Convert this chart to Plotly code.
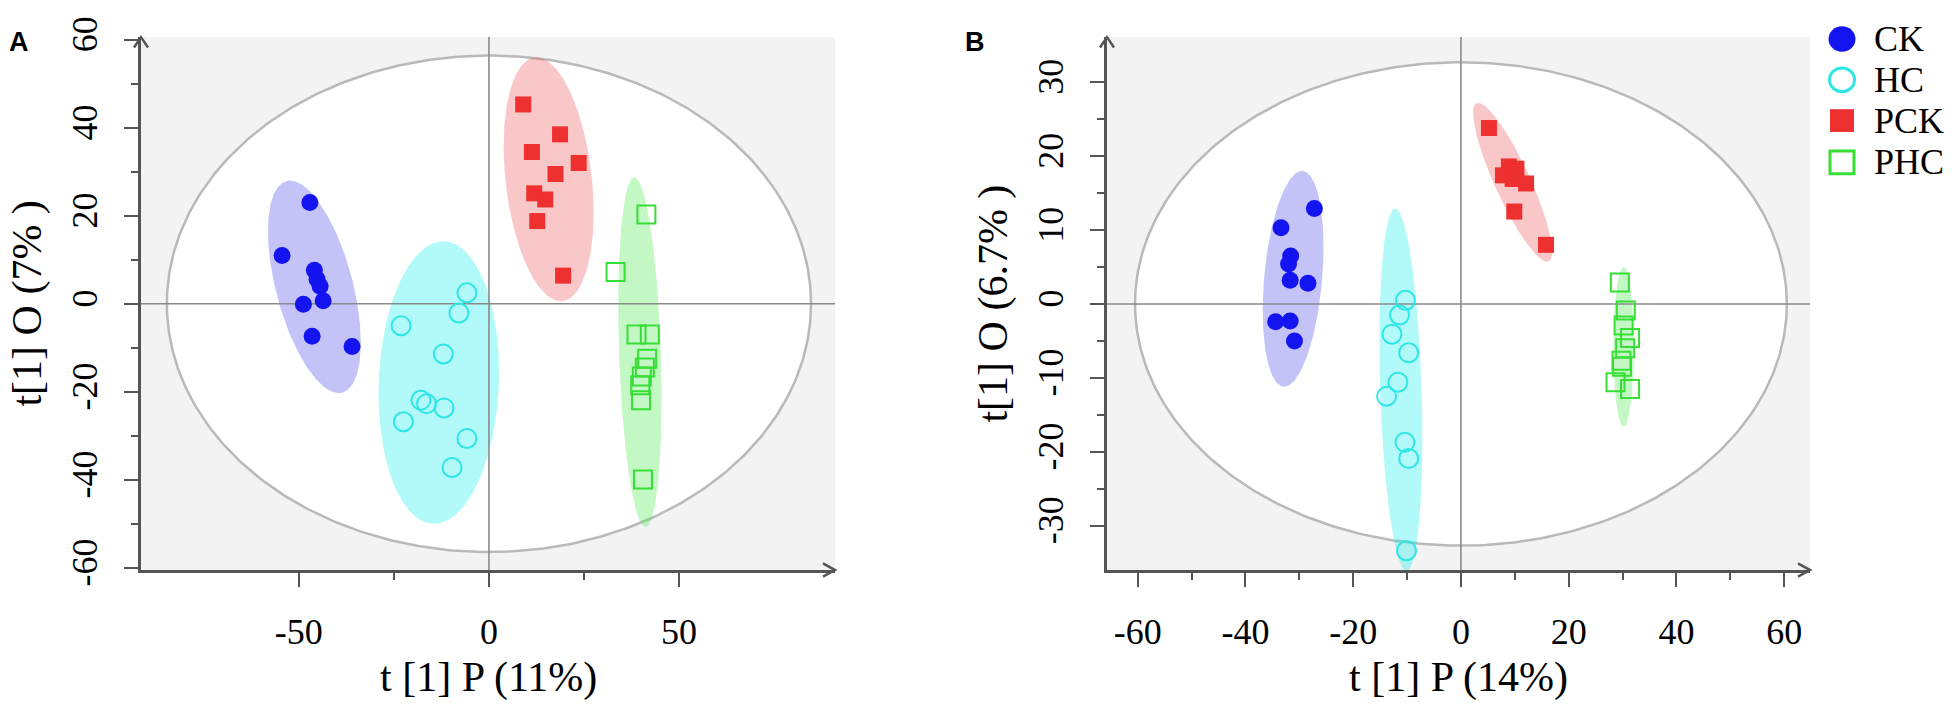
import numpy as np
import plotly.graph_objects as go

W, H = 1955, 715

# ---------------- data ----------------
groups = ["CK", "HC", "PCK", "PHC"]

# Panel A : t[1]P (11%) vs t[1]O (7%)
A_CK_x = [-47.1, -54.4, -45.9, -45.2, -44.4, -43.6, -48.8, -46.5, -36.0]
A_CK_y = [23.0, 11.0, 7.6, 5.6, 4.0, 0.7, -0.1, -7.4, -9.7]
A_HC_x = [-23.1, -5.8, -7.9, -12.0, -17.9, -16.4, -11.8, -22.5, -5.8, -9.7]
A_HC_y = [-5.0, 2.5, -2.1, -11.4, -21.9, -22.7, -23.7, -26.8, -30.6, -37.2]
A_PCK_x = [9.0, 18.7, 11.3, 23.6, 17.5, 11.9, 14.8, 12.7, 19.5]
A_PCK_y = [45.3, 38.5, 34.5, 32.0, 29.5, 25.1, 23.7, 18.8, 6.4]
A_PHC_x = [41.4, 33.3, 38.8, 42.3, 41.6, 41.0, 40.2, 39.8, 40.0, 40.5]
A_PHC_y = [20.3, 7.2, -7.0, -7.0, -12.5, -14.5, -16.5, -18.5, -21.9, -39.9]

# Panel B : t[1]P (14%) vs t[1]O (6.7%)
B_CK_x = [-27.2, -33.4, -31.6, -32.0, -31.7, -28.4, -34.4, -31.7, -30.9]
B_CK_y = [12.9, 10.3, 6.5, 5.4, 3.2, 2.8, -2.4, -2.3, -5.0]
B_HC_x = [-10.3, -11.4, -12.8, -9.7, -11.7, -13.8, -10.4, -9.7, -10.1]
B_HC_y = [0.5, -1.5, -4.1, -6.6, -10.6, -12.5, -18.7, -20.9, -33.4]
B_PCK_x = [5.2, 8.9, 10.3, 7.8, 9.6, 12.1, 9.9, 15.8]
B_PCK_y = [23.8, 18.6, 18.3, 17.4, 16.9, 16.3, 12.5, 8.0]
B_PHC_x = [29.5, 30.6, 30.2, 31.4, 30.5, 29.8, 29.9, 28.7, 31.4]
B_PHC_y = [2.9, -0.9, -2.9, -4.6, -6.0, -7.7, -8.5, -10.6, -11.5]

# group confidence ellipses: centre x, centre y, top-point x, top-point y, horizontal half-width
A_ell = [(-45.9, 3.85, -52.3, 28.0, 10.4),
         (-13.2, -17.9, -12.0, 14.2, 15.8),
         (15.7, 28.3, 12.5, 56.0, 11.4),
         (39.7, -11.0, 38.2, 28.7, 5.5)]
B_ell = [(-31.15, 3.4, -29.5, 18.0, 5.4),
         (-11.15, -11.6, -12.2, 12.9, 3.85),
         (9.6, 16.45, 3.2, 27.2, 3.6),
         (30.2, -5.8, 30.2, 5.0, 1.9)]
# Hotelling T2 ellipse radii
A_hot = (84.7, 56.4)
B_hot = (60.5, 32.7)

A_xrange = [-91.5, 91.0]
A_yrange = [-60.5, 60.6]
B_xrange = [-65.7, 64.8]
B_yrange = [-36.0, 36.1]

# tick values / labels
A_xticks = [-50, 0, 50]
A_xticklabels = ["-50", "0", "50"]
A_xminor = [-25, 25]
A_yticks = [-60, -40, -20, 0, 20, 40, 60]
A_yticklabels = ["-60", "-40", "-20", "0", "20", "40", "60"]
A_yminor = [-50, -30, -10, 10, 30, 50]
B_xticks = [-60, -40, -20, 0, 20, 40, 60]
B_xticklabels = ["-60", "-40", "-20", "0", "20", "40", "60"]
B_xminor = [-50, -30, -10, 10, 30, 50]
B_yticks = [-30, -20, -10, 0, 10, 20, 30]
B_yticklabels = ["-30", "-20", "-10", "0", "10", "20", "30"]
B_yminor = [-25, -15, -5, 5, 15, 25]

A_xlabel, A_ylabel = "t [1] P (11%)", "t[1] O (7% )"
B_xlabel, B_ylabel = "t [1] P (14%)", "t[1] O (6.7% )"

# ---------------- styles ----------------
mcol = {"CK": "#1414f0", "HC": "#2ee6e6", "PCK": "#ee3030", "PHC": "#36de36"}
fcol = {"CK": "rgba(90,90,235,0.36)", "HC": "rgba(0,235,235,0.30)",
        "PCK": "rgba(238,90,90,0.34)", "PHC": "rgba(80,232,80,0.34)"}
SERIF = "Liberation Serif"
AXC = "#555555"

fig = go.Figure()


def ell_pts(cx, cy, tx, ty, w, n=240):
    t = np.linspace(0, 2 * np.pi, n)
    return cx + (tx - cx) * np.cos(t) + w * np.sin(t), cy + (ty - cy) * np.cos(t)


def add_panel(xa, ya, hot, ells, xr, yr, pts):
    t = np.linspace(0, 2 * np.pi, 400)
    fig.add_trace(go.Scatter(x=hot[0] * np.cos(t), y=hot[1] * np.sin(t), mode="lines",
                             fill="toself", fillcolor="white",
                             line=dict(color="#b9b9b9", width=2.5),
                             xaxis=xa, yaxis=ya, showlegend=False, hoverinfo="skip"))
    for g, e in zip(groups, ells):
        ex, ey = ell_pts(*e)
        fig.add_trace(go.Scatter(x=ex, y=ey, mode="lines", fill="toself",
                                 fillcolor=fcol[g], line=dict(width=0),
                                 xaxis=xa, yaxis=ya, showlegend=False, hoverinfo="skip"))
    fig.add_trace(go.Scatter(x=xr, y=[0, 0], mode="lines", line=dict(color="#8a8a8a", width=1.6),
                             xaxis=xa, yaxis=ya, showlegend=False, hoverinfo="skip"))
    fig.add_trace(go.Scatter(x=[0, 0], y=yr, mode="lines", line=dict(color="#8a8a8a", width=1.6),
                             xaxis=xa, yaxis=ya, showlegend=False, hoverinfo="skip"))
    for g, (px, py) in zip(groups, pts):
        if g == "CK":
            mk = dict(symbol="circle", size=17, color=mcol[g])
        elif g == "HC":
            mk = dict(symbol="circle-open", size=19, color=mcol[g], line=dict(width=2))
        elif g == "PCK":
            mk = dict(symbol="square", size=16, color=mcol[g])
        else:
            mk = dict(symbol="square-open", size=18, color=mcol[g], line=dict(width=2))
        fig.add_trace(go.Scatter(x=px, y=py, mode="markers", marker=mk, name=g,
                                 xaxis=xa, yaxis=ya, showlegend=False))


add_panel("x", "y", A_hot, A_ell, A_xrange, A_yrange,
          [(A_CK_x, A_CK_y), (A_HC_x, A_HC_y), (A_PCK_x, A_PCK_y), (A_PHC_x, A_PHC_y)])
add_panel("x2", "y2", B_hot, B_ell, B_xrange, B_yrange,
          [(B_CK_x, B_CK_y), (B_HC_x, B_HC_y), (B_PCK_x, B_PCK_y), (B_PHC_x, B_PHC_y)])

ax_left, ax_right = 141, 835
bx_left, bx_right = 1107, 1810
py_top, py_bot = 17, 579
ydom = [1 - py_bot / H, 1 - py_top / H]


def axis_common(**kw):
    d = dict(showline=True, linecolor=AXC, linewidth=3, ticks="outside", ticklen=14,
             tickwidth=2, tickcolor=AXC, showgrid=False, zeroline=False,
             ticklabeloverflow="allow", tickmode="array",
             tickfont=dict(family=SERIF, size=36, color="black"), fixedrange=True)
    d.update(kw)
    return d


def minor(vals):
    return dict(ticks="outside", ticklen=7, tickwidth=2, tickcolor=AXC, tickvals=vals)


fig.update_layout(
    width=W, height=H, autosize=False,
    margin=dict(l=0, r=0, t=0, b=0),
    paper_bgcolor="white", plot_bgcolor="#f3f3f3",
    xaxis=axis_common(domain=[ax_left / W, ax_right / W], range=A_xrange,
                      tickvals=A_xticks, ticktext=A_xticklabels, anchor="y",
                      ticklabelstandoff=14, minor=minor(A_xminor)),
    yaxis=axis_common(domain=ydom, range=A_yrange, tickvals=A_yticks, ticktext=A_yticklabels,
                      tickangle=-90, anchor="x", ticklabelstandoff=13, minor=minor(A_yminor)),
    xaxis2=axis_common(domain=[bx_left / W, bx_right / W], range=B_xrange,
                       tickvals=B_xticks, ticktext=B_xticklabels, anchor="y2",
                       ticklabelstandoff=14, minor=minor(B_xminor)),
    yaxis2=axis_common(domain=ydom, range=B_yrange, tickvals=B_yticks, ticktext=B_yticklabels,
                       tickangle=-90, anchor="x2", ticklabelstandoff=13, minor=minor(B_yminor)),
)


def px_x(p):
    return p / W


def px_y(p):
    return 1 - p / H


shapes = []
# axis arrow heads
for xl, xr_ in ((ax_left, ax_right), (bx_left, bx_right)):
    shapes.append(dict(type="path", xref="paper", yref="paper",
                       path=f"M {px_x(xl-7)},{px_y(py_top+11)} L {px_x(xl)},{px_y(py_top)} L {px_x(xl+7)},{px_y(py_top+11)}",
                       line=dict(color=AXC, width=2.5)))
    shapes.append(dict(type="path", xref="paper", yref="paper",
                       path=f"M {px_x(xr_-12)},{px_y(py_bot-7)} L {px_x(xr_)},{px_y(py_bot)} L {px_x(xr_-12)},{px_y(py_bot+7)}",
                       line=dict(color=AXC, width=2.5)))

# legend
leg_x = 1842
leg_rows = [19, 62, 105, 149]
for g, ry in zip(groups, leg_rows):
    if g in ("CK", "HC"):
        r = 13.5 if g == "CK" else 12.5
        shapes.append(dict(type="circle", xref="paper", yref="paper",
                           x0=px_x(leg_x - r), x1=px_x(leg_x + r), y0=px_y(ry + r), y1=px_y(ry - r),
                           fillcolor=mcol[g] if g == "CK" else "white",
                           line=dict(color=mcol[g], width=0 if g == "CK" else 3)))
    else:
        r = 12
        shapes.append(dict(type="rect", xref="paper", yref="paper",
                           x0=px_x(leg_x - r), x1=px_x(leg_x + r), y0=px_y(ry + r), y1=px_y(ry - r),
                           fillcolor=mcol[g] if g == "PCK" else "white",
                           line=dict(color=mcol[g], width=0 if g == "PCK" else 3)))
fig.update_layout(shapes=shapes)

ann = []
for g, ry in zip(groups, leg_rows):
    ann.append(dict(text=g, x=px_x(1872), y=px_y(ry), xref="paper", yref="paper",
                    xanchor="left", yanchor="middle", showarrow=False,
                    font=dict(family=SERIF, size=36, color="black")))
# panel letters
for txt, xx in (("A", 7), ("B", 963)):
    ann.append(dict(text=f"<b>{txt}</b>", x=px_x(xx), y=px_y(22), xref="paper", yref="paper",
                    xanchor="left", yanchor="middle", showarrow=False,
                    font=dict(family="Liberation Sans", size=27, color="black")))
# axis titles
for txt, xx in ((A_xlabel, (ax_left + ax_right) / 2), (B_xlabel, (bx_left + bx_right) / 2)):
    ann.append(dict(text=txt, x=px_x(xx), y=px_y(692), xref="paper", yref="paper",
                    xanchor="center", yanchor="middle", showarrow=False,
                    font=dict(family=SERIF, size=42, color="black")))
for txt, xx in ((A_ylabel, 28), (B_ylabel, 994)):
    ann.append(dict(text=txt, x=px_x(xx), y=px_y((py_top + py_bot) / 2), xref="paper", yref="paper",
                    xanchor="center", yanchor="middle", showarrow=False, textangle=-90,
                    font=dict(family=SERIF, size=42, color="black")))
fig.update_layout(annotations=ann)

fig.write_html("out.html", config={"displayModeBar": False},
               post_script="document.body.style.margin='0';")
